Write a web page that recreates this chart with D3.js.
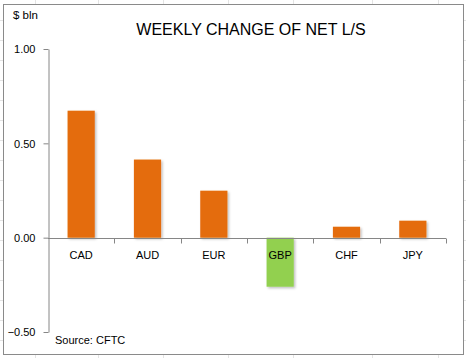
<!DOCTYPE html>
<html>
<head>
<meta charset="utf-8">
<script src="https://cdn.jsdelivr.net/npm/d3@7"></script>
<style>
  html, body { margin: 0; padding: 0; background: #fff; }
  svg { display: block; }
  text { font-family: "Liberation Sans", Arial, sans-serif; fill: #000; }
</style>
</head>
<body>
<svg id="chart" width="466" height="358"></svg>
<script>
const categories = ["CAD", "AUD", "EUR", "GBP", "CHF", "JPY"];
const values = [0.673, 0.414, 0.249, -0.26, 0.058, 0.09];
const yTicks = [-0.5, 0, 0.5, 1.0];
const title = "WEEKLY CHANGE OF NET L/S";
const unitLabel = "$ bln";
const sourceLabel = "Source: CFTC";

const svg = d3.select("#chart");
const W = 466, H = 358;

// faint spreadsheet grid outside the chart frame
const gridCols = [35, 98, 163, 228, 293, 372, 438];
const gridRows = d3.range(20, 358, 20);
svg.append("g").selectAll("line.c").data(gridCols).join("line")
  .attr("x1", d => d + 0.5).attr("x2", d => d + 0.5)
  .attr("y1", 0).attr("y2", H).attr("stroke", "#e4e4e4");
svg.append("g").selectAll("line.r").data(gridRows).join("line")
  .attr("x1", 0).attr("x2", W)
  .attr("y1", d => d + 0.5).attr("y2", d => d + 0.5).attr("stroke", "#e4e4e4");

// chart area frame
svg.append("rect").attr("x", 3.5).attr("y", 4.5).attr("width", 460).attr("height", 350)
  .attr("fill", "#fff").attr("stroke", "#8a8a8a").attr("stroke-width", 1);

const x = d3.scaleBand().domain(categories).range([48, 446]).paddingInner(0.59).paddingOuter(0.295);
const y = d3.scaleLinear().domain([-0.5, 1.0]).range([332, 49]);

// shadow filter
const defs = svg.append("defs");
const f = defs.append("filter").attr("id", "sh").attr("x", "-20%").attr("y", "-20%").attr("width", "150%").attr("height", "150%");
f.append("feDropShadow").attr("dx", 1.5).attr("dy", 1.5).attr("stdDeviation", 1.2)
  .attr("flood-color", "#000").attr("flood-opacity", 0.25);

// bars
svg.append("g").selectAll("rect").data(categories).join("rect")
  .attr("x", d => x(d))
  .attr("width", x.bandwidth())
  .attr("y", (d, i) => y(Math.max(0, values[i])))
  .attr("height", (d, i) => Math.abs(y(values[i]) - y(0)))
  .attr("fill", (d, i) => values[i] < 0 ? "#92D050" : "#E46C0A")
  .attr("filter", "url(#sh)");

// y axis
const yAxis = d3.axisLeft(y).tickValues(yTicks).tickFormat(d3.format(".2f")).tickSize(5).tickSizeOuter(0);
const gy = svg.append("g").attr("transform", "translate(48.5,0)").call(yAxis);
gy.select(".domain").attr("stroke", "#868686");
gy.selectAll(".tick line").attr("stroke", "#868686");
gy.selectAll(".tick text").attr("x", -13).attr("dy", "0.35em")
  .style("font-size", "11px").style("font-family", "Liberation Sans, Arial, sans-serif").attr("fill", "#000");

// x axis at zero
const xEdges = [...categories.map(c => x(c) - x.step() * x.paddingInner() / 2), 446];
const gx = svg.append("g");
gx.append("line").attr("x1", 48).attr("x2", 446)
  .attr("y1", Math.round(y(0)) + 0.5).attr("y2", Math.round(y(0)) + 0.5).attr("stroke", "#868686");
gx.selectAll("line.t").data(categories.map((c, i) => 48 + (i + 1) * x.step())).join("line")
  .attr("x1", d => Math.round(d) + 0.5).attr("x2", d => Math.round(d) + 0.5)
  .attr("y1", Math.round(y(0)) + 0.5).attr("y2", Math.round(y(0)) + 5.5).attr("stroke", "#868686");
gx.selectAll("text").data(categories).join("text")
  .attr("x", d => x(d) + x.bandwidth() / 2)
  .attr("y", 259)
  .attr("text-anchor", "middle")
  .style("font-size", "11px")
  .text(d => d);

// title and labels
svg.append("text").attr("x", 251).attr("y", 35).attr("text-anchor", "middle")
  .style("font-size", "16px").text(title);
svg.append("text").attr("x", 13).attr("y", 19).style("font-size", "11.5px").text(unitLabel);
svg.append("text").attr("x", 55).attr("y", 344).style("font-size", "11px").text(sourceLabel);
</script>
</body>
</html>
